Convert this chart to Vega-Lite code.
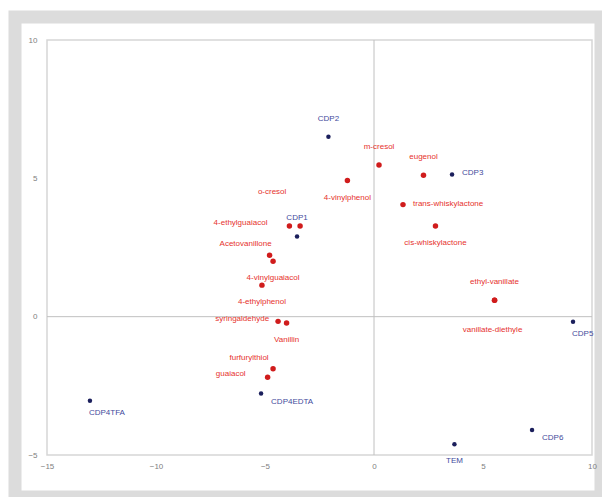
{
  "$schema": "https://vega.github.io/schema/vega-lite/v6.json",
  "width": 586,
  "height": 480,
  "autosize": "none",
  "padding": {"left": 15, "top": 17, "right": 1, "bottom": 0},
  "background": "white",
  "config": {
    "view": {"fill": "white", "stroke": "#dcdcdc", "strokeWidth": 13},
    "text": {"font": "Liberation Sans", "fontSize": 8, "baseline": "middle"}
  },
  "datasets": {
    "points": [
      {"name": "CDP2", "x": -2.09, "y": 6.5, "kind": "sample", "pos": "above"},
      {"name": "CDP3", "x": 3.58, "y": 5.14, "kind": "sample", "pos": "right"},
      {"name": "CDP1", "x": -3.53, "y": 2.9, "kind": "sample", "pos": "above"},
      {"name": "CDP5", "x": 9.13, "y": -0.18, "kind": "sample", "pos": "belowright"},
      {"name": "CDP6", "x": 7.25, "y": -4.1, "kind": "sample", "pos": "rightbelow"},
      {"name": "TEM", "x": 3.69, "y": -4.61, "kind": "sample", "pos": "below"},
      {"name": "CDP4EDTA", "x": -5.18, "y": -2.78, "kind": "sample", "pos": "rightbelow"},
      {"name": "CDP4TFA", "x": -13.03, "y": -3.04, "kind": "sample", "pos": "belowright"},
      {"name": "m-cresol", "x": 0.23, "y": 5.48, "kind": "compound", "pos": "above"},
      {"name": "eugenol", "x": 2.27, "y": 5.11, "kind": "compound", "pos": "above"},
      {"name": "4-vinylphenol", "x": -1.22, "y": 4.92, "kind": "compound", "pos": "below"},
      {"name": "o-cresol", "x": -3.39, "y": 3.28, "kind": "compound", "pos": "farupleft"},
      {"name": "4-ethylguaiacol", "x": -3.88, "y": 3.28, "kind": "compound", "pos": "farleft"},
      {"name": "trans-whiskylactone", "x": 1.33, "y": 4.05, "kind": "compound", "pos": "right"},
      {"name": "cis-whiskylactone", "x": 2.82, "y": 3.28, "kind": "compound", "pos": "below"},
      {"name": "Acetovanillone", "x": -4.79, "y": 2.22, "kind": "compound", "pos": "aboveleft"},
      {"name": "4-vinylguaiacol", "x": -4.63, "y": 2.0, "kind": "compound", "pos": "below"},
      {"name": "4-ethylphenol", "x": -5.14, "y": 1.14, "kind": "compound", "pos": "below"},
      {"name": "syringaldehyde", "x": -4.4, "y": -0.17, "kind": "compound", "pos": "left"},
      {"name": "Vanillin", "x": -4.01, "y": -0.23, "kind": "compound", "pos": "below"},
      {"name": "furfurylthiol", "x": -4.63, "y": -1.88, "kind": "compound", "pos": "aboveleft"},
      {"name": "guaiacol", "x": -4.88, "y": -2.19, "kind": "compound", "pos": "farleft"},
      {"name": "ethyl-vanillate", "x": 5.53, "y": 0.59, "kind": "compound", "pos": "above"},
      {"name": "vanillate-diethyle", "x": 5.53, "y": 0.59, "kind": "compound", "pos": "farbelow"}
    ],
    "frame": [
      {"x0": -15, "x1": 10, "y0": -5, "y1": 10}
    ],
    "zero": [
      {"x0": 0, "x1": 0, "y0": -5, "y1": 10},
      {"x0": -15, "x1": 10, "y0": 0, "y1": 0}
    ]
  },
  "data": {"name": "points"},
  "encoding": {
    "x": {
      "field": "x", "type": "quantitative",
      "scale": {"domain": [-15, 10], "range": [32, 577], "nice": false, "zero": false},
      "axis": {"orient": "bottom", "offset": -42, "values": [-15, -10, -5, 0, 5, 10], "domain": false, "ticks": false, "grid": false, "labelPadding": 7, "labelFontSize": 8, "labelColor": "#808080", "labelFont": "Liberation Sans", "labelFlush": false, "title": null}
    },
    "y": {
      "field": "y", "type": "quantitative",
      "scale": {"domain": [-5, 10], "range": [438, 23], "nice": false, "zero": false},
      "axis": {"orient": "left", "offset": -32, "values": [-5, 0, 5, 10], "domain": false, "ticks": false, "grid": false, "labelPadding": 10, "labelFontSize": 8, "labelColor": "#808080", "labelFont": "Liberation Sans", "labelFlush": false, "title": null}
    }
  },
  "layer": [
    {
      "data": {"name": "frame"},
      "mark": {"type": "rect", "fill": "white", "fillOpacity": 0, "stroke": "#d6d6d6", "strokeWidth": 1.5},
      "encoding": {"x": {"field": "x0", "type": "quantitative"}, "x2": {"field": "x1"}, "y": {"field": "y0", "type": "quantitative"}, "y2": {"field": "y1"}}
    },
    {
      "data": {"name": "zero"},
      "mark": {"type": "rule", "color": "#c0c0c0", "strokeWidth": 1},
      "encoding": {"x": {"field": "x0", "type": "quantitative"}, "x2": {"field": "x1"}, "y": {"field": "y0", "type": "quantitative"}, "y2": {"field": "y1"}}
    },
    {
      "mark": {"type": "circle", "opacity": 1},
      "encoding": {
        "color": {"condition": {"test": "datum.kind == 'sample'", "value": "#1b1f5c"}, "value": "#d01c1c"},
        "size": {"condition": {"test": "datum.kind == 'sample'", "value": 20}, "value": 30}
      }
    },
    {
      "transform": [{"filter": "datum.pos == 'above'"}],
      "mark": {"type": "text", "align": "center", "dx": 0, "dy": -18},
      "encoding": {"text": {"field": "name"}, "color": {"condition": {"test": "datum.kind == 'sample'", "value": "#3f4a9c"}, "value": "#e6322d"}}
    },
    {
      "transform": [{"filter": "datum.pos == 'below'"}],
      "mark": {"type": "text", "align": "center", "dx": 0, "dy": 17},
      "encoding": {"text": {"field": "name"}, "color": {"condition": {"test": "datum.kind == 'sample'", "value": "#3f4a9c"}, "value": "#e6322d"}}
    },
    {
      "transform": [{"filter": "datum.pos == 'right'"}],
      "mark": {"type": "text", "align": "left", "dx": 10, "dy": -1},
      "encoding": {"text": {"field": "name"}, "color": {"condition": {"test": "datum.kind == 'sample'", "value": "#3f4a9c"}, "value": "#e6322d"}}
    },
    {
      "transform": [{"filter": "datum.pos == 'belowright'"}],
      "mark": {"type": "text", "align": "left", "dx": -1, "dy": 12},
      "encoding": {"text": {"field": "name"}, "color": {"condition": {"test": "datum.kind == 'sample'", "value": "#3f4a9c"}, "value": "#e6322d"}}
    },
    {
      "transform": [{"filter": "datum.pos == 'rightbelow'"}],
      "mark": {"type": "text", "align": "left", "dx": 10, "dy": 8},
      "encoding": {"text": {"field": "name"}, "color": {"condition": {"test": "datum.kind == 'sample'", "value": "#3f4a9c"}, "value": "#e6322d"}}
    },
    {
      "transform": [{"filter": "datum.pos == 'left'"}],
      "mark": {"type": "text", "align": "right", "dx": -9, "dy": -2},
      "encoding": {"text": {"field": "name"}, "color": {"condition": {"test": "datum.kind == 'sample'", "value": "#3f4a9c"}, "value": "#e6322d"}}
    },
    {
      "transform": [{"filter": "datum.pos == 'farleft'"}],
      "mark": {"type": "text", "align": "right", "dx": -22, "dy": -3},
      "encoding": {"text": {"field": "name"}, "color": {"condition": {"test": "datum.kind == 'sample'", "value": "#3f4a9c"}, "value": "#e6322d"}}
    },
    {
      "transform": [{"filter": "datum.pos == 'aboveleft'"}],
      "mark": {"type": "text", "align": "center", "dx": -24, "dy": -11},
      "encoding": {"text": {"field": "name"}, "color": {"condition": {"test": "datum.kind == 'sample'", "value": "#3f4a9c"}, "value": "#e6322d"}}
    },
    {
      "transform": [{"filter": "datum.pos == 'farupleft'"}],
      "mark": {"type": "text", "align": "center", "dx": -28, "dy": -34},
      "encoding": {"text": {"field": "name"}, "color": {"condition": {"test": "datum.kind == 'sample'", "value": "#3f4a9c"}, "value": "#e6322d"}}
    },
    {
      "transform": [{"filter": "datum.pos == 'farbelow'"}],
      "mark": {"type": "text", "align": "center", "dx": -2, "dy": 30},
      "encoding": {"text": {"field": "name"}, "color": {"condition": {"test": "datum.kind == 'sample'", "value": "#3f4a9c"}, "value": "#e6322d"}}
    }
  ]
}
